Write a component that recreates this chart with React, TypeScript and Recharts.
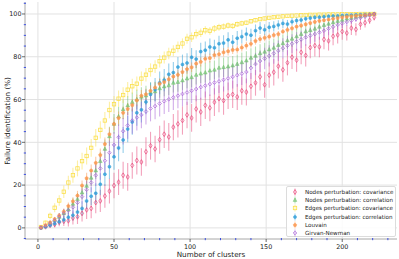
import { ScatterChart, Scatter, XAxis, YAxis, ErrorBar, ReferenceLine } from "recharts";

const clusters = [
  2, 5, 8, 11, 14, 17, 20, 23, 26, 29,
  32, 35, 38, 41, 44, 47, 50, 53, 56, 59,
  62, 65, 68, 71, 74, 77, 80, 83, 86, 89,
  92, 95, 98, 101, 104, 107, 110, 113, 116, 119,
  122, 125, 128, 131, 134, 137, 140, 143, 146, 149,
  152, 155, 158, 161, 164, 167, 170, 173, 176, 179,
  182, 185, 188, 191, 194, 197, 200, 203, 206, 209,
  212, 215, 218, 221,
];

const nodesCov = [
  0.2, 0.5, 1.2, 1.6, 2.6, 3.1, 3.3, 4.6, 5.2, 6.8,
  8.4, 9.1, 11.8, 12.6, 14.9, 17.2, 19.8, 21.4, 24.6, 23.8,
  29.2, 31.5, 30.8, 35.6, 38.4, 36.9, 41.2, 43.8, 42.5, 47.1,
  48.6, 50.2, 52.8, 51.4, 55.6, 54.2, 57.3, 56.1, 58.8, 60.4,
  59.5, 61.8, 62.4, 61.2, 64.1, 63.5, 66.2, 67.8, 70.6, 66.9,
  71.4, 72.8, 75.6, 73.9, 77.2, 79.8, 78.4, 82.1, 80.6, 84.3,
  85.2, 84.6, 88.1, 87.4, 89.6, 90.2, 91.8, 91.1, 93.4, 92.8,
  95.2, 95.9, 97.1, 98.4,
];
const nodesCovErr = [
  0.3, 0.6, 1, 1.4, 1.8, 2.2, 2.6, 3, 3.4, 3.8,
  4.2, 4.6, 5, 5.2, 5.5, 5.8, 6, 6, 6.3, 6.5,
  6.2, 6.6, 6.4, 6.8, 6.5, 6.2, 6.6, 6.4, 6.5, 6.1,
  6.4, 6.6, 6.2, 6.5, 6.3, 6.6, 6.4, 6.2, 6.5, 6.3,
  6.6, 6.2, 6.4, 6.1, 6.5, 6.3, 6.2, 6, 6.4, 6.1,
  5.9, 6.2, 5.8, 5.6, 5.9, 5.5, 5.4, 5.6, 5.2, 5,
  5.1, 4.8, 4.6, 4.5, 4.2, 4, 3.8, 3.5, 3.2, 2.9,
  2.6, 2.2, 1.8, 1.4,
];

const nodesCorr = [
  0.1, 0.9, 2.3, 3.6, 5.1, 6.8, 8.6, 11.2, 13.4, 16.5,
  19.6, 23.4, 26.8, 31.2, 36.9, 42.8, 48.6, 52.1, 55.4, 57.2,
  58.8, 60.1, 61.3, 61.9, 63.4, 63.8, 65.2, 66.1, 66.6, 67.8,
  68.2, 68.9, 69.8, 70.4, 71.5, 72.1, 72.6, 73.5, 73.9, 74.8,
  75.1, 75.4, 75.9, 76.6, 77.4, 78.2, 79.5, 80.4, 81.6, 82.3,
  83.4, 84.2, 85.5, 86.3, 87.6, 88.4, 89.5, 90.6, 91.8, 92.4,
  93.1, 94, 94.8, 95.4, 96.1, 96.7, 97.2, 97.8, 98.2, 98.7,
  99, 99.4, 99.7, 100,
];
const nodesCorrErr = [
  0.3, 0.6, 1, 1.3, 1.6, 1.9, 2.2, 2.6, 2.9, 3.2,
  3.5, 3.8, 4, 4.2, 4.4, 4.5, 4.6, 4.5, 4.6, 4.4,
  4.5, 4.6, 4.4, 4.5, 4.6, 4.5, 4.4, 4.6, 4.5, 4.5,
  4.6, 4.4, 4.5, 4.6, 4.5, 4.4, 4.6, 4.5, 4.4, 4.5,
  4.6, 4.5, 4.4, 4.5, 4.6, 4.4, 4.5, 4.4, 4.3, 4.3,
  4.2, 4.2, 4.1, 4, 3.9, 3.8, 3.7, 3.5, 3.4, 3.2,
  3.1, 2.9, 2.7, 2.5, 2.3, 2.1, 1.9, 1.7, 1.5, 1.3,
  1.1, 0.9, 0.7, 0.5,
];

const edgesCov = [
  0.4, 2.4, 5.6, 9.4, 12.8, 16.9, 21.2, 24.6, 27.8, 31.2,
  33.6, 37.4, 42.1, 45.8, 50.2, 55.1, 57.8, 60.4, 62.1, 64.6,
  66.2, 67.4, 69.8, 71.6, 73.8, 75.4, 77.9, 79.6, 81.5, 82.8,
  84.6, 86.2, 88.4, 89.1, 90.6, 91.2, 92.4, 92.1, 93.2, 93.8,
  94.1, 94.6, 94.4, 95.2, 95.6, 95.9, 96.6, 97.1, 97.6, 97.9,
  98.2, 98.5, 98.7, 98.9, 99.1, 99.2, 99.3, 99.4, 99.5, 99.6,
  99.6, 99.7, 99.7, 99.8, 99.8, 99.8, 99.9, 99.9, 99.9, 99.9,
  100, 100, 100, 100,
];
const edgesCovErr = [
  0.4, 1, 1.6, 2.1, 2.5, 2.9, 3.2, 3.5, 3.7, 3.9,
  4, 4.1, 4.1, 4, 4, 3.9, 3.9, 3.8, 3.7, 3.6,
  3.5, 3.4, 3.3, 3.2, 3.1, 3, 2.9, 2.8, 2.7, 2.6,
  2.5, 2.4, 2.3, 2.2, 2.1, 2, 1.9, 1.8, 1.7, 1.6,
  1.5, 1.4, 1.4, 1.3, 1.2, 1.1, 1.1, 1, 0.9, 0.9,
  0.8, 0.8, 0.7, 0.7, 0.6, 0.6, 0.5, 0.5, 0.5, 0.4,
  0.4, 0.4, 0.3, 0.3, 0.3, 0.3, 0.2, 0.2, 0.2, 0.2,
  0.1, 0.1, 0.1, 0.1,
];

const edgesCorr = [
  0.1, 0.5, 1.2, 2, 2.9, 3.8, 5, 5.9, 7.4, 9.1,
  12.6, 14.8, 16.2, 20.4, 25.1, 28.6, 33.2, 37.4, 41.1, 46.2,
  49.5, 53.8, 55.2, 58.9, 62.4, 64.6, 67.8, 69.1, 71.8, 72.6,
  75.2, 76.4, 77.1, 79.8, 78.9, 82.4, 83.1, 84.6, 84.2, 86.1,
  86.4, 87.9, 86.8, 88.7, 89.4, 90.6, 90.1, 92.2, 93.4, 92.6,
  93.8, 94.2, 94.9, 95.6, 95.3, 96.4, 96.9, 97.2, 97.8, 98.1,
  98.4, 98.5, 98.7, 98.9, 99, 99.1, 99.3, 99.4, 99.5, 99.6,
  99.7, 99.8, 99.9, 100,
];
const edgesCorrErr = [
  0.2, 0.4, 0.7, 1, 1.3, 1.7, 2.1, 2.5, 2.9, 3.3,
  3.8, 4.2, 4.7, 5.1, 5.5, 5.8, 6, 6.2, 6.1, 6.2,
  6, 6.1, 5.9, 5.8, 5.6, 5.5, 5.3, 5.2, 5, 4.9,
  4.7, 4.6, 4.5, 4.3, 4.2, 4.1, 4, 3.9, 3.8, 3.7,
  3.6, 3.5, 3.4, 3.3, 3.2, 3.1, 3, 2.9, 2.8, 2.6,
  2.5, 2.4, 2.2, 2.1, 1.9, 1.8, 1.6, 1.5, 1.3, 1.2,
  1.1, 1, 0.9, 0.8, 0.7, 0.6, 0.5, 0.4, 0.3, 0.3,
  0.2, 0.2, 0.1, 0.1,
];

const louvain = [
  0.2, 1.3, 2.6, 4.1, 5.8, 7.6, 10.2, 12.4, 15.1, 19.8,
  23.2, 26.8, 30.4, 34.1, 39.2, 43.8, 48.6, 51.4, 53.8, 55.6,
  57.4, 59.6, 61.8, 62.5, 64.1, 65.6, 67.4, 68.2, 69.5, 70.8,
  71.6, 72.9, 74.2, 75.1, 76.8, 77.6, 79.1, 79.4, 80.8, 81.2,
  82.1, 82.6, 83.2, 83.4, 84.3, 85.2, 86.1, 87.4, 88.3, 88.9,
  89.4, 90.1, 90.6, 91.8, 92.6, 93.3, 94.1, 94.6, 95.2, 95.8,
  96.3, 96.8, 97.1, 97.4, 97.8, 98.1, 98.4, 98.7, 98.9, 99.1,
  99.3, 99.5, 99.7, 100,
];
const louvainErr = [
  0.2, 0.4, 0.6, 0.9, 1.1, 1.4, 1.7, 1.9, 2.2, 2.4,
  2.6, 2.8, 2.9, 3, 3, 3.1, 3, 3, 2.9, 2.8,
  2.8, 2.7, 2.7, 2.6, 2.6, 2.5, 2.5, 2.5, 2.4, 2.4,
  2.4, 2.3, 2.3, 2.2, 2.2, 2.2, 2.1, 2.1, 2, 2,
  2, 2, 1.9, 1.9, 1.8, 1.8, 1.8, 1.7, 1.7, 1.6,
  1.6, 1.5, 1.5, 1.4, 1.4, 1.3, 1.3, 1.2, 1.1, 1.1,
  1, 1, 0.9, 0.8, 0.8, 0.7, 0.6, 0.6, 0.5, 0.4,
  0.4, 0.3, 0.3, 0.2,
];

const girvanNewman = [
  0.1, 0.8, 2.1, 3.4, 5.2, 6.8, 8.2, 9.6, 11.8, 14.6,
  17.8, 21.2, 24.6, 27.8, 31.4, 35.1, 38.8, 42.4, 45.2, 47.9,
  50.2, 51.6, 52.8, 54.4, 55.8, 56.9, 58.1, 59.2, 60.1, 61,
  61.8, 62.6, 63.3, 64.1, 64.9, 65.8, 66.5, 67.2, 67.9, 68.5,
  69.2, 69.9, 70.6, 71.4, 72.1, 72.9, 74.8, 76.6, 78, 79.2,
  80.4, 81.6, 82.8, 84, 85.2, 86.1, 87.1, 88.1, 89.1, 89.9,
  90.6, 91.4, 92.2, 93.1, 94, 94.9, 95.6, 96.3, 96.9, 97.6,
  98.2, 98.8, 99.4, 100,
];
const girvanNewmanErr = [
  0.3, 0.6, 1, 1.4, 1.8, 2.2, 2.6, 3, 3.4, 3.8,
  4.2, 4.6, 5, 5.3, 5.6, 5.8, 6, 6.1, 6.2, 6.2,
  6.2, 6.1, 6.2, 6.1, 6, 6.1, 6, 6, 5.9, 5.9,
  5.9, 5.8, 5.8, 5.8, 5.7, 5.7, 5.6, 5.6, 5.6, 5.5,
  5.5, 5.5, 5.4, 5.4, 5.3, 5.3, 5.2, 5.2, 5.1, 5,
  5, 4.9, 4.8, 4.7, 4.6, 4.4, 4.3, 4.1, 4, 3.8,
  3.6, 3.4, 3.2, 3, 2.8, 2.5, 2.2, 1.9, 1.6, 1.3,
  1, 0.8, 0.5, 0.3,
];

const xMajor = [0, 50, 100, 150, 200];
const xMinor = [0, 10, 20, 30, 40, 50, 60, 70, 80, 90, 100, 110, 120, 130, 140, 150, 160, 170, 180, 190, 200, 210, 220, 230];
const yMajor = [0, 20, 40, 60, 80, 100];
const yMinor = [-5, 0, 5, 10, 15, 20, 25, 30, 35, 40, 45, 50, 55, 60, 65, 70, 75, 80, 85, 90, 95, 100, 105];

const series = [
  { name: "Nodes perturbation: covariance", values: nodesCov, errors: nodesCovErr, color: "#e8467a", kind: "thin" },
  { name: "Nodes perturbation: correlation", values: nodesCorr, errors: nodesCorrErr, color: "#6cbf6a", kind: "triangle" },
  { name: "Edges perturbation: covariance", values: edgesCov, errors: edgesCovErr, color: "#fbe04c", kind: "square" },
  { name: "Edges perturbation: correlation", values: edgesCorr, errors: edgesCorrErr, color: "#2d9dd8", kind: "circle" },
  { name: "Louvain", values: louvain, errors: louvainErr, color: "#fb964e", kind: "pentagon" },
  { name: "Girvan-Newman", values: girvanNewman, errors: girvanNewmanErr, color: "#a65ed6", kind: "diamond" },
];

const FONT = "DejaVu Sans, sans-serif";

function Marker({ kind, cx, cy, color }: { kind: string; cx: number; cy: number; color: string }) {
  if (cx == null || cy == null) return null;
  switch (kind) {
    case "thin":
      return <path d={`M${cx},${cy - 2.4}L${cx + 1.5},${cy}L${cx},${cy + 2.4}L${cx - 1.5},${cy}Z`} fill="none" stroke={color} strokeWidth={0.7} />;
    case "triangle":
      return <path d={`M${cx},${cy - 2}L${cx + 1.8},${cy + 1.4}L${cx - 1.8},${cy + 1.4}Z`} fill={color} fillOpacity={0.6} stroke={color} strokeWidth={0.5} />;
    case "square":
      return <rect x={cx - 1.7} y={cy - 1.7} width={3.4} height={3.4} fill="none" stroke={color} strokeWidth={0.8} />;
    case "circle":
      return <circle cx={cx} cy={cy} r={1.5} fill={color} fillOpacity={0.8} stroke={color} strokeWidth={0.5} />;
    case "pentagon": {
      const pts = [0, 1, 2, 3, 4]
        .map((k) => {
          const a = -Math.PI / 2 + (k * 2 * Math.PI) / 5;
          return `${cx + 1.8 * Math.cos(a)},${cy + 1.8 * Math.sin(a)}`;
        })
        .join(" ");
      return <polygon points={pts} fill={color} fillOpacity={0.85} stroke={color} strokeWidth={0.5} />;
    }
    default:
      return <path d={`M${cx},${cy - 1.8}L${cx + 1.8},${cy}L${cx},${cy + 1.8}L${cx - 1.8},${cy}Z`} fill="none" stroke={color} strokeWidth={0.7} />;
  }
}

const XTick = (props: any) => {
  const { x, y, payload } = props;
  const v = payload.value;
  const minor = <line x1={x} x2={x} y1={y - 1} y2={y + 1.2} stroke="#3b4fe0" strokeWidth={1} />;
  if (!xMajor.includes(v)) return minor;
  return (
    <g>
      <line x1={x} x2={x} y1={y} y2={y + 3} stroke="#444" strokeWidth={0.8} />
      <text x={x} y={y + 10} textAnchor="middle" fontSize={6.4} fill="#222" fontFamily={FONT}>
        {v}
      </text>
    </g>
  );
};

const YTick = (props: any) => {
  const { x, y, payload } = props;
  const v = payload.value;
  const minor = <line x1={x - 1.2} x2={x + 1} y1={y} y2={y} stroke="#3b4fe0" strokeWidth={1} />;
  if (!yMajor.includes(v)) return minor;
  return (
    <g>
      <line x1={x - 3} x2={x} y1={y} y2={y} stroke="#444" strokeWidth={0.8} />
      <text x={x - 3.5} y={y + 2.3} textAnchor="end" fontSize={6.4} fill="#222" fontFamily={FONT}>
        {v}
      </text>
    </g>
  );
};

function LegendIcon({ kind, color }: { kind: string; color: string }) {
  return (
    <svg width={8} height={8} style={{ display: "block" }}>
      <line x1={4} x2={4} y1={0.5} y2={7.5} stroke={color} strokeOpacity={0.5} strokeWidth={1} />
      <Marker kind={kind} cx={4} cy={4} color={color} />
    </svg>
  );
}

export default function App() {
  const domainX: [number, number] = [-8.5, 236];
  const domainY: [number, number] = [-5.2, 105.6];
  return (
    <div style={{ position: "absolute", left: 0, top: 0, width: 399, height: 259, background: "#fff" }}>
      <ScatterChart width={399} height={259} margin={{ top: 2, right: 2, bottom: 0, left: 0 }}>
        <XAxis
          type="number"
          dataKey="x"
          domain={domainX}
          allowDataOverflow
          ticks={xMinor}
          interval={0}
          tick={<XTick />}
          tickLine={false}
          tickSize={0}
          tickMargin={0}
          height={20}
          axisLine={{ stroke: "#a8a8a8", strokeWidth: 1 }}
          label={{ value: "Number of clusters", position: "insideBottom", offset: 2, fontSize: 7.2, fill: "#222", fontFamily: FONT }}
        />
        <XAxis xAxisId="top" orientation="top" type="number" dataKey="x" domain={domainX} allowDataOverflow height={0} tick={false} tickLine={false} axisLine={{ stroke: "#a8a8a8", strokeWidth: 1 }} />
        <YAxis
          type="number"
          dataKey="y"
          domain={domainY}
          allowDataOverflow
          ticks={yMinor}
          interval={0}
          tick={<YTick />}
          tickLine={false}
          tickSize={0}
          tickMargin={0}
          width={25}
          axisLine={{ stroke: "#a8a8a8", strokeWidth: 1 }}
          label={{
            content: () => (
              <text x={7} y={121} transform="rotate(-90 7 121)" textAnchor="middle" dominantBaseline="central" fontSize={7.2} fill="#222" fontFamily={FONT}>
                Failure identification (%)
              </text>
            ),
          }}
        />
        <YAxis yAxisId="right" orientation="right" type="number" dataKey="y" domain={domainY} allowDataOverflow width={0} tick={false} tickLine={false} axisLine={{ stroke: "#a8a8a8", strokeWidth: 1 }} />
        {xMajor.map((v) => (
          <ReferenceLine key={`gx${v}`} x={v} stroke="#e2e2e2" strokeWidth={1} />
        ))}
        {yMajor.map((v) => (
          <ReferenceLine key={`gy${v}`} y={v} stroke="#e2e2e2" strokeWidth={1} />
        ))}
        {series.map((s) => (
          <Scatter
            key={s.name}
            name={s.name}
            data={clusters.map((x, i) => ({ x, y: s.values[i], e: s.errors[i] }))}
            isAnimationActive={false}
            shape={(p: any) => <Marker kind={s.kind} cx={p.cx} cy={p.cy} color={s.color} />}
          >
            <ErrorBar dataKey="e" direction="y" width={0} stroke={s.color} strokeOpacity={0.5} strokeWidth={1.1} isAnimationActive={false} />
          </Scatter>
        ))}
      </ScatterChart>
      <div
        style={{
          position: "absolute",
          left: 286,
          top: 186,
          width: 110,
          height: 51,
          border: "1px solid #dcdcdc",
          borderRadius: 2,
          background: "rgba(255,255,255,0.85)",
          boxSizing: "border-box",
          padding: "1px 0 0 4px",
          fontFamily: FONT,
          fontSize: 5.6,
          color: "#222",
        }}
      >
        {series.map((s) => (
          <div key={s.name} style={{ display: "flex", alignItems: "center", height: 8.2 }}>
            <LegendIcon kind={s.kind} color={s.color} />
            <span style={{ marginLeft: 6, whiteSpace: "nowrap" }}>{s.name}</span>
          </div>
        ))}
      </div>
    </div>
  );
}
